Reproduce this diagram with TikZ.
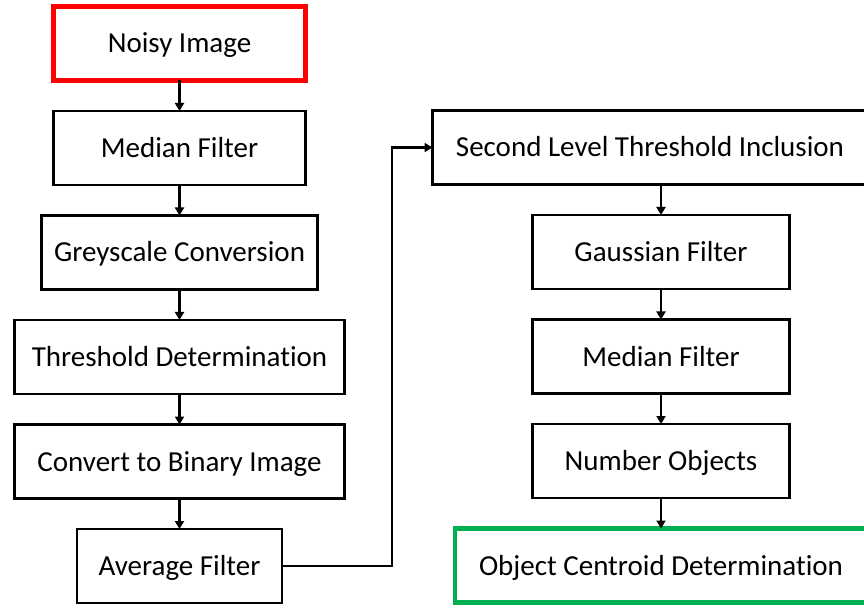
\documentclass[tikz,border=0pt]{standalone}
\usepackage{fontspec}
\setmainfont[Ligatures=NoCommon]{Carlito}
\usetikzlibrary{positioning,arrows.meta}

\definecolor{startred}{RGB}{255,0,0}
\definecolor{endgreen}{RGB}{0,176,80}

\tikzset{
	box/.style = {draw, line width=2.8pt, outer sep=0pt, inner sep=0pt, minimum height=74pt, text height=19pt, text depth=0pt, font=\fontsize{29}{34}\selectfont},
	startbox/.style = {box, draw=startred, line width=4.5pt},
	endbox/.style = {box, draw=endgreen, line width=4.5pt},
	flow/.style = {line width=2.6pt, -{Triangle[length=8pt,width=9pt]}}
}

\begin{document}
\begin{tikzpicture}[x=1pt, y=-1pt, node distance = 30.5pt]
			
			\useasboundingbox (0,0) rectangle (864,609);
			
			\node[startbox, minimum width=252pt] (noisy) at (179.5,43.5) {Noisy Image};
			\node[box, minimum width=252pt, below=of noisy] (medianA) {Median Filter};
			\node[box, minimum width=276pt, below=of medianA] (grey) {Greyscale Conversion};
			\node[box, minimum width=330pt, below=of grey] (thresh) {Threshold Determination};
			\node[box, minimum width=330pt, below=of thresh] (binary) {Convert to Binary Image};
			\node[box, minimum width=205pt, below=of binary] (avg) {Average Filter};
			
			\node[box, minimum width=435pt] (second) at (650,147.5) {Second Level Threshold Inclusion};
			\node[box, minimum width=257pt, below=of second, xshift=11pt] (gauss) {Gaussian Filter};
			\node[box, minimum width=257pt, below=of gauss] (medianB) {Median Filter};
			\node[box, minimum width=257pt, below=of medianB] (number) {Number Objects};
			\node[endbox, minimum width=412pt, below=of number] (centroid) {Object Centroid Determination};
			
			\coordinate (turn) at (392,147.5);
			
			\draw[flow] (noisy) -- (medianA);
			\draw[flow] (medianA) -- (grey);
			\draw[flow] (grey) -- (thresh);
			\draw[flow] (thresh) -- (binary);
			\draw[flow] (binary) -- (avg);
			\draw[flow] (avg.east) -| (turn) -- (second.west);
			\draw[flow] (second.south -| gauss.north) -- (gauss.north);
			\draw[flow] (gauss) -- (medianB);
			\draw[flow] (medianB) -- (number);
			\draw[flow] (number) -- (centroid);
			
			\end{tikzpicture}
\end{document}
